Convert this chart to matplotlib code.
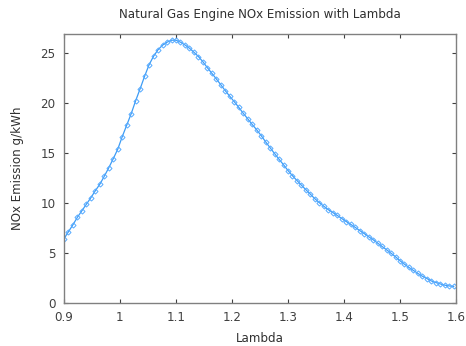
import matplotlib
matplotlib.use('Agg')
import matplotlib.pyplot as plt
import numpy as np

# lambda sample grid (step 0.008) and NOx readings
lam_start = 0.9
lam_step = 0.008
nox = [
    6.4, 7.1, 7.8, 8.55, 9.2, 9.85, 10.5, 11.2, 11.85, 12.65,
    13.5, 14.4, 15.35, 16.6, 17.75, 18.9, 20.2, 21.4, 22.65, 23.8,
    24.65, 25.3, 25.75, 26.05, 26.25, 26.25, 26.05, 25.78, 25.45, 25.05,
    24.62, 24.1, 23.5, 22.95, 22.38, 21.8, 21.2, 20.65, 20.1, 19.55,
    18.95, 18.4, 17.83, 17.3, 16.72, 16.1, 15.5, 14.92, 14.35, 13.8,
    13.22, 12.7, 12.22, 11.75, 11.3, 10.85, 10.4, 10.0, 9.65, 9.3,
    9.02, 8.73, 8.42, 8.12, 7.84, 7.54, 7.22, 6.92, 6.6, 6.3,
    5.97, 5.63, 5.3, 4.95, 4.6, 4.2, 3.85, 3.53, 3.23, 2.93,
    2.65, 2.42, 2.18, 2.02, 1.88, 1.76, 1.68, 1.63,
]
lam = lam_start + lam_step * np.arange(len(nox))

xticks = [0.9, 1.0, 1.1, 1.2, 1.3, 1.4, 1.5, 1.6]
xticklabels = ['0.9', '1', '1.1', '1.2', '1.3', '1.4', '1.5', '1.6']
yticks = [0, 5, 10, 15, 20, 25]

fig = plt.figure(figsize=(4.66, 3.46), dpi=100)
ax = fig.add_axes([0.1373, 0.125, 0.8412, 0.7776])

ax.plot(lam, nox, color='#3d9cf5', lw=0.9, marker='D', ms=2.6,
        mfc='none', mec='#55aaff', mew=0.7)

ax.set_xlim(0.9, 1.6)
ax.set_ylim(0, 26.9)
ax.set_xticks(xticks)
ax.set_xticklabels(xticklabels)
ax.set_yticks(yticks)

for s in ax.spines.values():
    s.set_color('#808080')
    s.set_linewidth(1.0)
ax.tick_params(direction='in', length=3, width=0.8, color='#404040',
               labelsize=8.6, labelcolor='#404040', top=True, right=True, pad=6)

ax.set_title('Natural Gas Engine NOx Emission with Lambda', fontsize=8.6,
             color='#303030', pad=11)
ax.set_xlabel('Lambda', fontsize=8.6, color='#303030', labelpad=6)
ax.set_ylabel('NOx Emission g/kWh', fontsize=8.6, color='#303030', labelpad=12)

fig.savefig('out.png', dpi=100)
